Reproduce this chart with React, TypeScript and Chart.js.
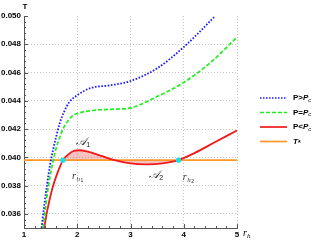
import React, { useEffect, useRef } from 'react';
import { Chart, registerables } from 'chart.js';

Chart.register(...registerables);

const xTicks = [1, 2, 3, 4, 5];
const yTicks = [0.036, 0.038, 0.040, 0.042, 0.044, 0.046, 0.048, 0.050];
const tStar = 0.0398;

const blueX = [1.33, 1.38, 1.43, 1.49, 1.55, 1.60, 1.67, 1.75, 1.85, 2.0, 2.25, 2.63, 3.0, 3.5, 4.0, 4.25, 4.59];
const blueY = [0.0350, 0.0366, 0.0380, 0.0395, 0.0406, 0.0414, 0.0424, 0.0432, 0.0439, 0.0444, 0.0449, 0.0451, 0.0454, 0.0463, 0.0478, 0.0487, 0.0500];

const greenX = [1.36, 1.41, 1.46, 1.54, 1.60, 1.66, 1.73, 1.81, 1.9, 2.0, 2.25, 2.63, 3.0, 3.5, 4.0, 4.5, 5.0];
const greenY = [0.0350, 0.0366, 0.0380, 0.0396, 0.0406, 0.0413, 0.0420, 0.0425, 0.0429, 0.0431, 0.0433, 0.0434, 0.0435, 0.0443, 0.0453, 0.0467, 0.0485];

const redX = [1.38, 1.43, 1.48, 1.54, 1.60, 1.66, 1.73, 1.80, 1.9, 2.02, 2.2, 2.45, 2.7, 3.0, 3.3, 3.6, 3.9, 4.2, 4.6, 5.0];
const redY = [0.0350, 0.0361, 0.0370, 0.0379, 0.0386, 0.0392, 0.0398, 0.0401, 0.0404, 0.0405, 0.0404, 0.0401, 0.0398, 0.03957, 0.0395, 0.03957, 0.0398, 0.0403, 0.0411, 0.0419];

const rootX = [1.73, 3.9];

const legendLabels = ['P>', 'P=', 'P<', ''];

const pts = (xs: number[], ys: number[]) => xs.map((x, i) => ({ x, y: ys[i] }));

const BLUE = '#1a1aff';
const GREEN = '#1ef01e';
const RED = '#f01818';
const ORANGE = '#ff9626';
const CYAN = '#18e0e8';
const PINK = 'rgba(240,120,120,0.45)';

const overlay = {
  id: 'overlay',
  afterDraw(chart: any) {
    const ctx = chart.ctx;
    const xs = chart.scales.x;
    const ys = chart.scales.y;
    const ca = chart.chartArea;
    ctx.save();
    ctx.setLineDash([]);
    ctx.strokeStyle = '#555';
    ctx.lineWidth = 1;
    for (let v = 0.0352; v <= 0.05001; v += 0.0004) {
      const py = Math.round(ys.getPixelForValue(v)) + 0.5;
      const major = yTicks.some((t) => Math.abs(t - v) < 1e-6);
      ctx.beginPath();
      ctx.moveTo(ca.left, py);
      ctx.lineTo(ca.left + (major ? 4 : 2), py);
      ctx.stroke();
    }
    for (let v = 1.2; v <= 5.0001; v += 0.2) {
      const px = Math.round(xs.getPixelForValue(v)) + 0.5;
      const major = xTicks.some((t) => Math.abs(t - v) < 1e-6);
      ctx.beginPath();
      ctx.moveTo(px, ca.bottom);
      ctx.lineTo(px, ca.bottom - (major ? 4 : 2));
      ctx.stroke();
    }
    ctx.fillStyle = '#000';
    ctx.font = 'bold 8px "Liberation Sans"';
    ctx.textAlign = 'center';
    ctx.textBaseline = 'alphabetic';
    ctx.fillText('T', ca.left + 1, 9);
    ctx.textAlign = 'left';
    ctx.font = 'italic 10px "Liberation Serif"';
    ctx.fillText('r', ca.right + 6, ca.bottom + 8);
    ctx.font = 'italic 7px "Liberation Serif"';
    ctx.fillText('h', ca.right + 10, ca.bottom + 10);

    const drawA = (x: number, y: number, sub: string) => {
      const px = xs.getPixelForValue(x);
      const py = ys.getPixelForValue(y);
      ctx.font = 'italic 11px "DejaVu Serif"';
      ctx.fillStyle = '#222';
      ctx.fillText('\u{1D49C}', px, py);
      const w = ctx.measureText('\u{1D49C}').width;
      ctx.font = '7px "Liberation Sans"';
      ctx.fillText(sub, px + w, py + 2);
    };
    drawA(1.98, 0.04088, '1');
    drawA(3.35, 0.03852, '2');
    const drawR = (x: number, y: number, sub: string) => {
      const px = xs.getPixelForValue(x);
      const py = ys.getPixelForValue(y);
      ctx.fillStyle = '#333';
      ctx.font = 'italic 10px "Liberation Serif"';
      ctx.fillText('r', px, py);
      ctx.font = 'italic 7px "Liberation Serif"';
      ctx.fillText('h', px + 4.5, py + 2);
      ctx.font = '5px "Liberation Sans"';
      ctx.fillText(sub, px + 8.5, py + 3);
    };
    drawR(1.9, 0.03850, '1');
    drawR(3.98, 0.03843, '2');

    const colors = [BLUE, GREEN, RED, ORANGE];
    const dashes = [[1.5, 1.5], [4, 2], [], []];
    const rowsY = [98, 112.5, 127, 141.5];
    for (let i = 0; i < 4; i++) {
      const y = rowsY[i];
      ctx.strokeStyle = colors[i];
      ctx.lineWidth = 1.7;
      ctx.setLineDash(dashes[i]);
      ctx.beginPath();
      ctx.moveTo(260, y);
      ctx.lineTo(287, y);
      ctx.stroke();
      ctx.setLineDash([]);
      ctx.fillStyle = '#000';
      ctx.textBaseline = 'middle';
      let x = 293;
      if (i < 3) {
        ctx.font = 'bold 8px "Liberation Sans"';
        ctx.fillText(legendLabels[i], x, y);
        x += ctx.measureText(legendLabels[i]).width;
        ctx.font = 'bold italic 8px "Liberation Sans"';
        ctx.fillText('P', x, y);
        x += ctx.measureText('P').width;
        ctx.font = 'italic 6px "Liberation Sans"';
        ctx.fillText('c', x, y + 2);
      } else {
        ctx.font = 'bold italic 8px "Liberation Sans"';
        ctx.fillText('T', x, y);
        x += ctx.measureText('T').width;
        ctx.font = 'bold 7px "Liberation Sans"';
        ctx.fillText('*', x, y + 2);
      }
    }
    ctx.restore();
  },
};

export default function App() {
  const ref = useRef<HTMLCanvasElement | null>(null);
  useEffect(() => {
    if (!ref.current) return;
    const redFillIdx = redX.map((x, i) => i).filter((i) => redX[i] >= rootX[0] - 1e-9 && redX[i] <= rootX[1] + 1e-9);
    const chart = new Chart(ref.current, {
      type: 'line',
      data: {
        datasets: [
          {
            label: 'fill',
            data: redFillIdx.map((i) => ({ x: redX[i], y: redY[i] })),
            borderWidth: 0,
            borderColor: 'rgba(0,0,0,0)',
            pointRadius: 0,
            cubicInterpolationMode: 'monotone',
            fill: { value: tStar, above: PINK, below: PINK } as any,
            order: 10,
          },
          {
            label: 'T*',
            data: [{ x: 1, y: tStar }, { x: 5, y: tStar }],
            borderColor: ORANGE,
            borderWidth: 1.9,
            pointRadius: 0,
            fill: false,
            order: 9,
          },
          {
            label: 'P<Pc',
            data: pts(redX, redY),
            borderColor: RED,
            borderWidth: 1.8,
            pointRadius: 0,
            cubicInterpolationMode: 'monotone',
            fill: false,
            order: 8,
          },
          {
            label: 'P=Pc',
            data: pts(greenX, greenY),
            borderColor: GREEN,
            borderWidth: 1.7,
            borderDash: [4, 2],
            pointRadius: 0,
            cubicInterpolationMode: 'monotone',
            fill: false,
            order: 7,
          },
          {
            label: 'P>Pc',
            data: pts(blueX, blueY),
            borderColor: BLUE,
            borderWidth: 1.8,
            borderDash: [1.6, 1.6],
            pointRadius: 0,
            cubicInterpolationMode: 'monotone',
            fill: false,
            order: 6,
          },
          {
            label: 'roots',
            data: rootX.map((x) => ({ x, y: tStar })),
            showLine: false,
            pointRadius: 2.6,
            pointBackgroundColor: CYAN,
            pointBorderColor: CYAN,
            borderWidth: 0,
            order: 1,
          },
        ],
      },
      options: {
        responsive: false,
        animation: false,
        clip: false as any,
        layout: { padding: { top: 16, right: 81, left: 0, bottom: 0 } },
        plugins: { legend: { display: false }, tooltip: { enabled: false } },
        scales: {
          x: {
            type: 'linear',
            min: 1,
            max: 5,
            afterBuildTicks: (s: any) => { s.ticks = xTicks.map((v) => ({ value: v })); },
            afterFit: (s: any) => { s.height = 13; },
            ticks: {
              padding: 2,
              color: '#000',
              font: { family: 'Liberation Sans', size: 8, weight: 'bold' },
              maxRotation: 0,
              callback: (v: any) => String(v),
            },
            grid: {
              drawTicks: false,
              color: (c: any) => (c.tick && c.tick.value === 1 ? 'rgba(0,0,0,0)' : '#c4c4c4'),
            },
            border: { display: true, color: '#555', width: 1, dash: [1, 2] },
          },
          y: {
            type: 'linear',
            min: 0.035,
            max: 0.05,
            afterBuildTicks: (s: any) => { s.ticks = yTicks.map((v) => ({ value: v })); },
            afterFit: (s: any) => { s.width = 24; },
            ticks: {
              padding: 3,
              color: '#000',
              font: { family: 'Liberation Sans', size: 8, weight: 'bold' },
              callback: (v: any) => Number(v).toFixed(3),
            },
            grid: {
              drawTicks: false,
              color: (c: any) => (c.tick && Math.abs(c.tick.value - 0.05) < 1e-9 ? 'rgba(0,0,0,0)' : '#c4c4c4'),
            },
            border: { display: true, color: '#555', width: 1, dash: [1, 2] },
          },
        },
      },
      plugins: [overlay],
    });
    return () => chart.destroy();
  }, []);
  return (
    <div style={{ position: 'absolute', left: 0, top: 0, width: 318, height: 241, background: '#fff' }}>
      <canvas ref={ref} width={318} height={241} style={{ display: 'block' }} />
    </div>
  );
}
